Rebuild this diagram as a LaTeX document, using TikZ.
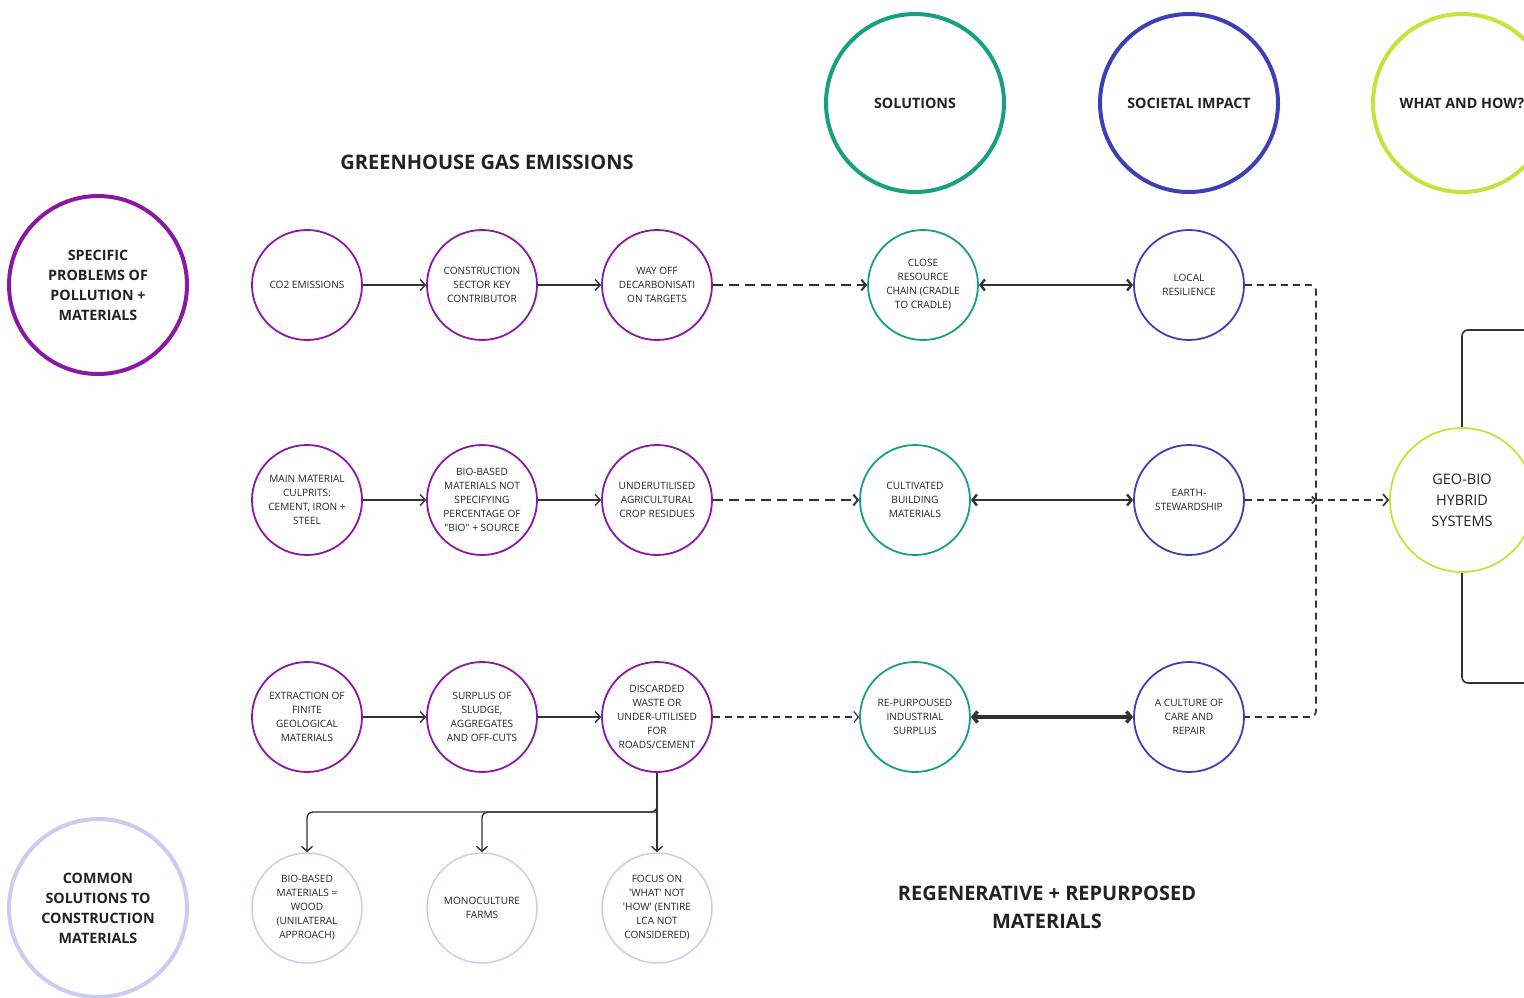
\documentclass[tikz,border=0pt]{standalone}
\usepackage{fontspec}
\setmainfont{Open Sans}
% plain face without TeX ligature mapping, for straight quote marks
\font\straightq="Open Sans" at 10.1pt
\newcommand{\sq}{{\straightq\char"27}}
\newcommand{\dq}{{\straightq\char"22}}
\usetikzlibrary{arrows.meta}
\definecolor{probpurple}{RGB}{139,24,164}
\definecolor{soltea}{RGB}{22,160,128}
\definecolor{socblue}{RGB}{60,64,180}
\definecolor{whatlime}{RGB}{200,226,60}
\definecolor{commonlav}{RGB}{206,202,242}
\definecolor{ink}{RGB}{34,34,34}
\definecolor{linegray}{RGB}{50,50,50}
\begin{document}
\begin{tikzpicture}[x=1pt,y=-1pt,
  every node/.style={text=ink},
  bigcirc/.style={circle, draw, line width=4pt, minimum size=178pt, inner sep=0pt, align=center,
    font=\bfseries\fontsize{14.3}{20}\selectfont},
  smallcirc/.style={circle, draw, line width=1.8pt, minimum size=110pt, inner sep=0pt, align=center,
    font=\fontsize{10.1}{14}\selectfont},
  prob/.style={smallcirc, draw=probpurple},
  sol/.style={smallcirc, draw=soltea},
  soc/.style={smallcirc, draw=socblue},
  com/.style={smallcirc, draw=commonlav, line width=1.5pt},
  heading/.style={font=\bfseries\fontsize{20}{28}\selectfont, align=center},
  flow/.style={draw=linegray, line width=1.4pt, -{Straight Barb[length=5pt,width=11pt]}},
  dflow/.style={draw=linegray, line width=2pt, dash pattern=on 10pt off 6pt, -{Straight Barb[length=4.5pt,width=11pt]}},
  twoway/.style={draw=linegray, line width=2.4pt, {Straight Barb[length=4.5pt,width=11pt]}-{Straight Barb[length=4.5pt,width=11pt]}},
  rdash/.style={draw=linegray, line width=1.7pt, dash pattern=on 7pt off 5pt},
]
\useasboundingbox (0,0) rectangle (1524,997);
\clip (0,0) rectangle (1524,997);

% column headings
\node[bigcirc, draw=soltea] (hsol) at (915,103) {SOLUTIONS};
\node[bigcirc, draw=socblue] (hsoc) at (1189,103) {SOCIETAL IMPACT};
\node[bigcirc, draw=whatlime] (hwhat) at (1462,103) {WHAT AND HOW?};
\node[bigcirc, draw=probpurple] (hprob) at (98,285) {SPECIFIC\\PROBLEMS OF\\POLLUTION +\\MATERIALS};
\node[bigcirc, draw=commonlav] (hcom) at (98,908) {COMMON\\SOLUTIONS TO\\CONSTRUCTION\\MATERIALS};

\node[heading] (tghg) at (487,162) {GREENHOUSE GAS EMISSIONS};
\node[heading] (tregen) at (1047,907) {REGENERATIVE + REPURPOSED\\MATERIALS};

% row 1
\node[prob] (c11) at (307,285) {CO2 EMISSIONS};
\node[prob] (c12) at (482,285) {CONSTRUCTION\\SECTOR KEY\\CONTRIBUTOR};
\node[prob] (c13) at (657,285) {WAY OFF\\DECARBONISATI\\ON TARGETS};
\node[sol] (c14) at (923,285) {CLOSE\\RESOURCE\\CHAIN (CRADLE\\TO CRADLE)};
\node[soc] (c15) at (1189,285) {LOCAL\\RESILIENCE};

% row 2
\node[prob] (c21) at (307,500) {MAIN MATERIAL\\CULPRITS:\\CEMENT, IRON +\\STEEL};
\node[prob] (c22) at (482,500) {BIO-BASED\\MATERIALS NOT\\SPECIFYING\\PERCENTAGE OF\\\dq BIO\dq{} + SOURCE};
\node[prob] (c23) at (657,500) {UNDERUTILISED\\AGRICULTURAL\\CROP RESIDUES};
\node[sol] (c24) at (915,500) {CULTIVATED\\BUILDING\\MATERIALS};
\node[soc] (c25) at (1189,500) {EARTH-\\STEWARDSHIP};

% row 3
\node[prob] (c31) at (307,717) {EXTRACTION OF\\FINITE\\GEOLOGICAL\\MATERIALS};
\node[prob] (c32) at (482,717) {SURPLUS OF\\SLUDGE,\\AGGREGATES\\AND OFF-CUTS};
\node[prob] (c33) at (657,717) {DISCARDED\\WASTE OR\\UNDER-UTILISED\\FOR\\ROADS/CEMENT};
\node[sol] (c34) at (915,717) {RE-PURPOUSED\\INDUSTRIAL\\SURPLUS};
\node[soc] (c35) at (1189,717) {A CULTURE OF\\CARE AND\\REPAIR};

% row 4
\node[com] (c41) at (307,908) {BIO-BASED\\MATERIALS =\\WOOD\\(UNILATERAL\\APPROACH)};
\node[com] (c42) at (482,908) {MONOCULTURE\\FARMS};
\node[com] (c43) at (657,908) {FOCUS ON\\\sq WHAT\sq{} NOT\\\sq HOW\sq{} (ENTIRE\\LCA NOT\\CONSIDERED)};

% bracket behind the hybrid systems node
\draw[draw=linegray, line width=1.6pt, rounded corners=6pt] (1600,330) -- (1462,330) -- (1462,683) -- (1600,683);
\node[circle, draw=whatlime, line width=1.8pt, fill=white, minimum size=144pt, inner sep=0pt, align=center,
  font=\fontsize{14.5}{21}\selectfont] (geo) at (1462,500) {GEO-BIO\\HYBRID\\SYSTEMS};

% problem chains
\draw[flow] (c11) -- (c12);
\draw[flow] (c12) -- (c13);
\draw[flow] (c21) -- (c22);
\draw[flow] (c22) -- (c23);
\draw[flow] (c31) -- (c32);
\draw[flow] (c32) -- (c33);

% problems to solutions
\draw[dflow] (c13) -- (c14);
\draw[dflow] (c23) -- (c24);
\draw[dflow, line width=1.2pt, dash pattern=on 7pt off 5pt] (c33) -- (c34);

% solutions and societal impact
\draw[twoway] (c14) -- (c15);
\draw[twoway] (c24) -- (c25);
\draw[twoway, line width=3.4pt] (c34) -- (c35);

% societal impact to hybrid systems
\coordinate (jt) at (1316,285);
\coordinate (jm) at (1316,500);
\coordinate (jb) at (1316,717);
\draw[rdash, rounded corners=6pt] (c15) -- (jt) -- (jb) -- (c35);
\draw[rdash, -{Straight Barb[length=3pt,width=7pt]}] (c25) -- (jm);
\draw[rdash, -{Straight Barb[length=5pt,width=12pt]}] (jm) -- (geo);

% common solutions branch
\coordinate (tj) at (657,812);
\draw[flow, rounded corners=6pt] (c33) -- (tj) -| (c41);
\draw[flow, rounded corners=6pt] (tj) -| (c42);
\draw[flow] (c33) -- (c43);
\end{tikzpicture}
\end{document}
